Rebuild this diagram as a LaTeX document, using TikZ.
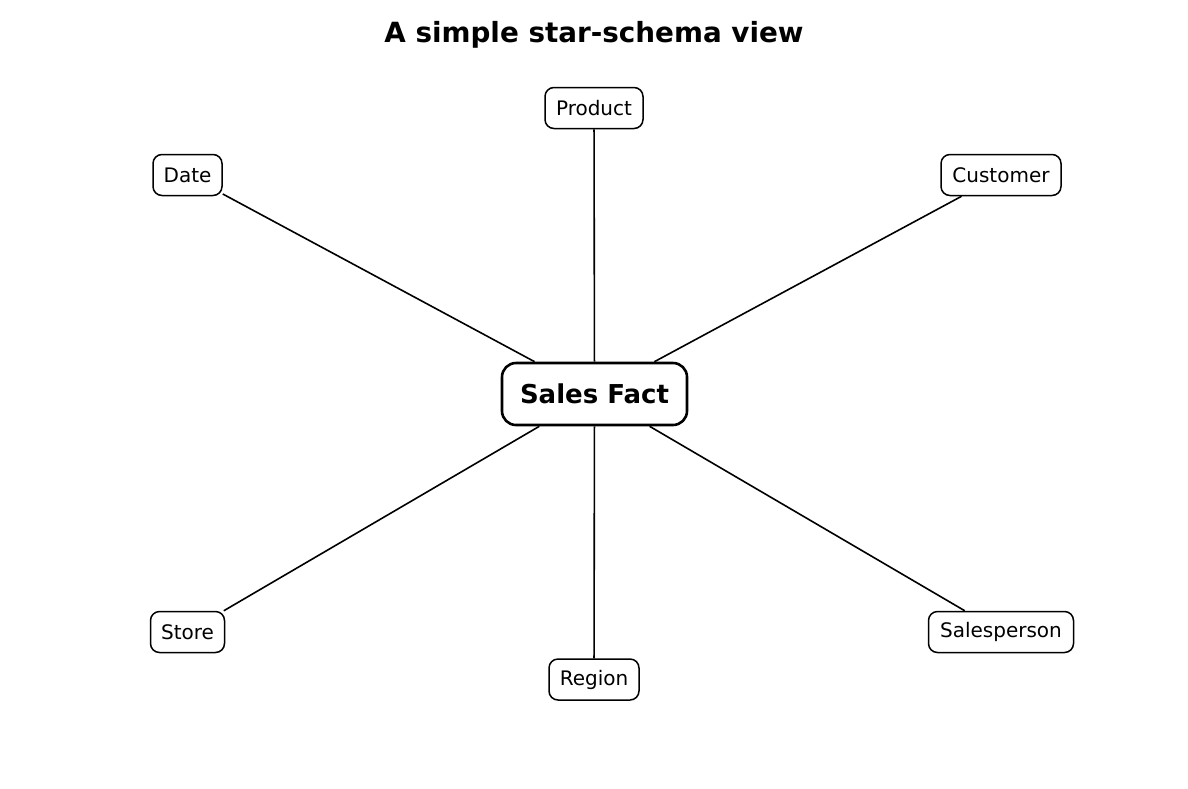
\documentclass[tikz,border=0pt]{standalone}
\usepackage{fontspec}
\setmainfont{DejaVu Sans}
\begin{document}
\begin{tikzpicture}[x=1pt,y=-1pt,
  dim/.style={draw=black,line width=1.5pt,rounded corners=9pt,fill=white,
    minimum height=41pt,inner sep=0pt,font=\fontsize{20}{24}\selectfont},
  fact/.style={draw=black,line width=2.6pt,rounded corners=14pt,fill=white,
    minimum width=185pt,minimum height=62pt,inner sep=0pt,
    font=\fontsize{26}{30}\selectfont\bfseries},
  link/.style={line width=1.6pt}]
\useasboundingbox (0,0) rectangle (1188,788);
\node[font=\fontsize{27.8}{32}\selectfont\bfseries] (title) at (594,35) {A simple star-schema view};
\node[fact] (f) at (594.5,394) {Sales Fact};
\node[dim,minimum width=98pt] (product) at (594,108) {Product};
\node[dim,minimum width=69pt] (date) at (187.5,175) {Date};
\node[dim,minimum width=120pt] (customer) at (1001,175) {Customer};
\node[dim,minimum width=74pt] (store) at (187.5,632) {Store};
\node[dim,minimum width=90pt] (region) at (594,679.5) {Region};
\node[dim,minimum width=145pt] (sales) at (1001,632) {Salesperson};
\foreach \n in {product,date,customer,store,region,sales}
  \draw[link] (f) -- (\n);
\end{tikzpicture}
\end{document}
